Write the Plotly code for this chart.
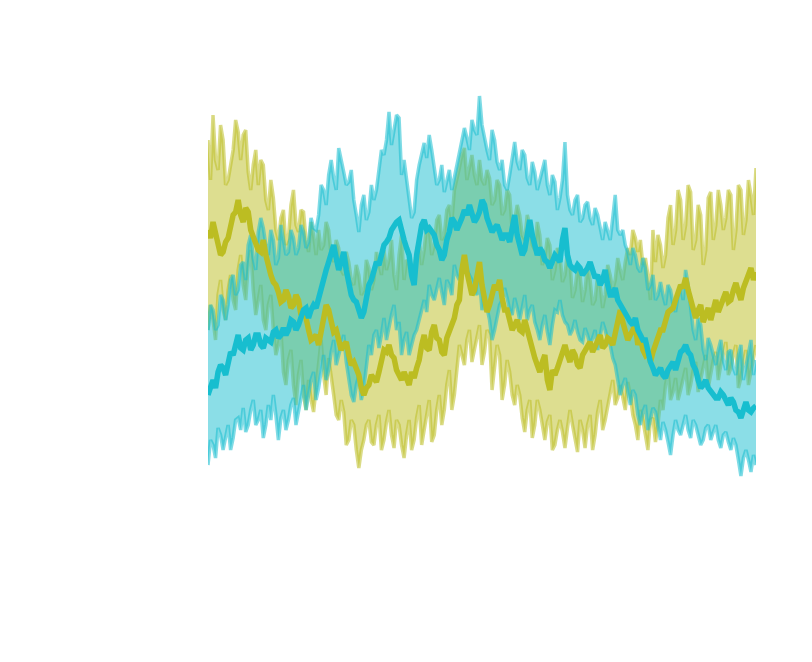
import plotly.graph_objects as go

# Values at the main sample points (every step)
olive_mean = [250, 258, 235, 228, 242, 265, 280, 258, 268, 242,
              230, 240, 212, 198, 188, 180, 184, 175, 180, 168,
              150, 142, 135, 162, 170, 148, 140, 135, 125, 118,
              105, 85, 95, 102, 108, 130, 135, 122, 105, 108,
              95, 102, 120, 145, 130, 155, 140, 125, 150, 162,
              180, 225, 195, 190, 218, 180, 175, 195, 200, 170,
              162, 155, 150, 160, 140, 122, 108, 125, 90, 105,
              120, 135, 118, 125, 112, 130, 138, 135, 145, 135,
              140, 145, 170, 150, 145, 155, 145, 125, 118, 135,
              150, 158, 170, 180, 195, 202, 180, 162, 175, 165,
              160, 180, 175, 188, 180, 197, 180, 198, 212, 208]
# Values at the half steps in between
olive_mean_half = [242, 248, 225, 238, 255, 268, 265, 272, 250, 238,
                   228, 225, 205, 195, 178, 190, 172, 185, 165, 162,
                   140, 145, 150, 175, 155, 150, 130, 138, 115, 112,
                   92, 92, 105, 98, 122, 128, 125, 110, 100, 100,
                   108, 112, 135, 132, 148, 142, 128, 142, 155, 175,
                   210, 208, 185, 205, 195, 168, 188, 190, 182, 170,
                   150, 160, 148, 150, 128, 115, 118, 100, 110, 112,
                   128, 125, 130, 115, 125, 135, 128, 142, 132, 142,
                   135, 160, 158, 140, 150, 135, 130, 128, 128, 145,
                   150, 168, 172, 190, 192, 190, 170, 170, 158, 172,
                   172, 168, 185, 178, 190, 188, 192, 205, 200]

olive_upper = [340, 365, 310, 340, 300, 330, 348, 345, 308, 315,
               295, 315, 270, 282, 240, 270, 242, 290, 248, 268,
               228, 245, 250, 235, 250, 218, 232, 205, 218, 195,
               205, 190, 212, 200, 218, 230, 220, 205, 225, 200,
               218, 212, 240, 230, 252, 235, 265, 245, 275, 290,
               312, 332, 315, 305, 320, 295, 302, 280, 295, 270,
               285, 260, 265, 240, 255, 230, 245, 222, 235, 210,
               225, 205, 218, 190, 205, 190, 200, 180, 195, 185,
               205, 200, 210, 218, 225, 242, 240, 222, 180, 218,
               235, 225, 275, 250, 280, 255, 288, 240, 265, 230,
               288, 255, 275, 262, 285, 250, 290, 260, 285, 312]
olive_upper_half = [300, 320, 355, 295, 318, 360, 320, 350, 290, 330,
                    320, 280, 300, 250, 262, 235, 275, 255, 270, 240,
                    258, 225, 230, 258, 225, 240, 210, 228, 200, 215,
                    185, 220, 190, 228, 205, 210, 240, 190, 245, 220,
                    200, 230, 215, 255, 225, 260, 240, 270, 258, 300,
                    325, 300, 325, 295, 300, 310, 275, 300, 265, 290,
                    250, 275, 245, 265, 235, 258, 215, 242, 200, 232,
                    198, 228, 182, 212, 178, 215, 175, 205, 172, 215,
                    190, 222, 200, 232, 250, 228, 215, 205, 250, 245,
                    212, 262, 235, 290, 240, 295, 230, 275, 215, 282,
                    240, 290, 250, 290, 230, 295, 245, 300, 265]

olive_lower = [150, 160, 185, 170, 190, 180, 210, 195, 215, 190,
               180, 160, 175, 150, 135, 108, 120, 95, 105, 85,
               100, 68, 120, 105, 122, 85, 60, 68, 40, 55,
               12, 40, 60, 35, 65, 40, 70, 32, 55, 22,
               60, 40, 75, 50, 80, 45, 85, 70, 110, 85,
               135, 115, 150, 130, 155, 128, 145, 110, 125, 95,
               108, 75, 85, 48, 80, 55, 70, 40, 65, 35,
               60, 32, 70, 40, 60, 32, 65, 45, 80, 60,
               90, 75, 95, 70, 85, 55, 70, 45, 60, 38,
               80, 95, 80, 102, 90, 112, 95, 118, 102, 125,
               108, 128, 115, 138, 112, 135, 102, 130, 108, 135]
olive_lower_half = [175, 140, 200, 160, 205, 170, 225, 180, 230, 165,
                    195, 150, 185, 125, 150, 95, 130, 75, 120, 70,
                    80, 95, 140, 85, 100, 65, 80, 35, 60, 30,
                    30, 55, 38, 55, 30, 58, 45, 60, 35, 45,
                    30, 62, 35, 68, 38, 70, 55, 95, 70, 110,
                    125, 140, 118, 145, 115, 150, 90, 135, 80, 120,
                    85, 95, 62, 70, 42, 80, 52, 58, 30, 50,
                    48, 52, 55, 28, 50, 55, 30, 68, 50, 75,
                    100, 82, 80, 98, 65, 40, 60, 30, 62, 55,
                    70, 108, 88, 80, 100, 85, 110, 88, 115, 92,
                    120, 100, 128, 105, 125, 92, 118, 95, 125]

cyan_mean = [85, 100, 108, 112, 120, 125, 145, 130, 142, 135,
             145, 132, 140, 148, 142, 152, 150, 158, 155, 170,
             162, 175, 182, 202, 218, 235, 210, 228, 195, 180,
             170, 168, 195, 210, 215, 235, 242, 255, 260, 240,
             225, 195, 245, 260, 252, 245, 230, 225, 248, 258,
             255, 270, 275, 258, 268, 275, 255, 252, 248, 245,
             238, 265, 235, 230, 260, 235, 232, 220, 212, 225,
             218, 252, 215, 210, 212, 208, 218, 202, 195, 210,
             185, 192, 175, 168, 158, 162, 145, 140, 118, 105,
             112, 102, 115, 110, 128, 135, 125, 110, 92, 100,
             88, 82, 88, 80, 82, 70, 62, 78, 68, 74]
cyan_mean_half = [95, 92, 115, 105, 128, 138, 132, 140, 130, 145,
                  135, 142, 138, 150, 145, 145, 160, 150, 162, 172,
                  170, 172, 195, 210, 225, 222, 218, 210, 185, 178,
                  162, 182, 200, 218, 225, 238, 250, 258, 248, 232,
                  205, 225, 255, 250, 248, 235, 220, 240, 262, 250,
                  262, 265, 268, 262, 280, 262, 248, 255, 240, 245,
                  255, 245, 225, 245, 245, 225, 228, 218, 220, 222,
                  240, 225, 212, 215, 205, 212, 210, 205, 200, 195,
                  185, 180, 172, 160, 155, 150, 140, 128, 112, 108,
                  105, 110, 118, 122, 130, 128, 115, 100, 95, 92,
                  85, 82, 85, 75, 78, 68, 72, 70, 72]

cyan_upper = [150, 170, 155, 180, 175, 205, 190, 218, 235, 222,
              248, 252, 225, 240, 222, 240, 228, 242, 232, 248,
              238, 252, 265, 290, 305, 302, 332, 308, 298, 280,
              248, 285, 268, 280, 312, 325, 368, 350, 362, 320,
              285, 268, 315, 337, 345, 315, 300, 288, 310, 302,
              330, 352, 330, 350, 384, 340, 320, 340, 310, 295,
              305, 338, 310, 325, 295, 308, 300, 320, 285, 298,
              282, 338, 270, 280, 258, 275, 262, 272, 250, 258,
              240, 285, 245, 235, 215, 225, 208, 212, 195, 180,
              198, 175, 190, 168, 195, 210, 175, 140, 155, 120,
              135, 115, 140, 110, 130, 105, 135, 112, 140, 120]
cyan_upper_half = [175, 150, 185, 160, 200, 185, 215, 200, 245, 210,
                   262, 235, 250, 215, 255, 225, 250, 225, 255, 232,
                   262, 250, 295, 275, 320, 290, 318, 295, 310, 265,
                   275, 260, 295, 290, 330, 340, 335, 365, 305, 300,
                   262, 300, 325, 322, 330, 295, 315, 300, 290, 318,
                   338, 342, 360, 345, 355, 330, 350, 318, 320, 290,
                   320, 318, 330, 302, 318, 290, 312, 295, 305, 270,
                   300, 285, 265, 285, 262, 278, 255, 265, 240, 250,
                   262, 250, 250, 228, 232, 212, 222, 190, 205, 185,
                   185, 195, 175, 185, 180, 195, 150, 162, 130, 142,
                   125, 130, 120, 128, 112, 125, 100, 128, 105]

cyan_lower = [15, 35, 52, 30, 55, 42, 62, 72, 55, 80,
              60, 42, 75, 85, 40, 70, 60, 82, 68, 95,
              85, 108, 92, 125, 110, 140, 125, 145, 100, 78,
              105, 92, 135, 145, 132, 162, 155, 175, 158, 140,
              125, 145, 162, 180, 195, 180, 202, 175, 195, 215,
              200, 222, 205, 190, 202, 180, 160, 150, 175, 192,
              170, 182, 160, 185, 170, 158, 140, 165, 135, 170,
              180, 158, 145, 160, 140, 152, 135, 150, 142, 150,
              135, 115, 85, 102, 75, 85, 55, 75, 60, 68,
              40, 50, 25, 60, 45, 65, 42, 55, 35, 52,
              40, 55, 32, 48, 30, 35, 4, 30, 8, 15]
cyan_lower_half = [40, 22, 45, 42, 30, 60, 50, 48, 70, 55,
                   70, 55, 60, 65, 62, 50, 75, 55, 80, 70,
                   100, 80, 110, 100, 128, 115, 138, 118, 85, 95,
                   80, 118, 125, 150, 145, 140, 165, 150, 125, 148,
                   135, 150, 170, 168, 185, 190, 188, 200, 185, 205,
                   212, 210, 200, 185, 170, 172, 140, 165, 180, 182,
                   165, 172, 172, 160, 175, 150, 155, 148, 155, 168,
                   165, 155, 150, 148, 138, 145, 142, 130, 158, 140,
                   122, 100, 95, 88, 90, 65, 68, 50, 72, 55,
                   58, 38, 45, 50, 55, 50, 60, 45, 40, 55,
                   48, 40, 45, 38, 42, 20, 22, 20, 25]


def weave(main, half):
    xs, ys = [], []
    for i, v in enumerate(main):
        xs.append(i)
        ys.append(v)
        if i < len(half) and i < len(main) - 1:
            xs.append(i + 0.5)
            ys.append(half[i])
    return xs, ys


series = [
    ("olive", (olive_mean, olive_mean_half), (olive_upper, olive_upper_half),
     (olive_lower, olive_lower_half), (188, 189, 34)),
    ("cyan", (cyan_mean, cyan_mean_half), (cyan_upper, cyan_upper_half),
     (cyan_lower, cyan_lower_half), (23, 190, 207)),
]

fig = go.Figure()
for name, mean, upper, lower, (r, g, b) in series:
    band_line = f"rgba({r},{g},{b},0.55)"
    fill = f"rgba({r},{g},{b},0.5)"
    lx, ly = weave(*lower)
    ux, uy = weave(*upper)
    fig.add_trace(go.Scatter(x=lx, y=ly, mode="lines",
                             line=dict(color=band_line, width=3.5),
                             showlegend=False, hoverinfo="skip"))
    fig.add_trace(go.Scatter(x=ux, y=uy, mode="lines",
                             line=dict(color=band_line, width=3.5),
                             fill="tonexty", fillcolor=fill,
                             showlegend=False, hoverinfo="skip"))
for name, mean, upper, lower, (r, g, b) in series:
    mx, my = weave(*mean)
    fig.add_trace(go.Scatter(x=mx, y=my, mode="lines",
                             line=dict(color=f"rgb({r},{g},{b})", width=5.5),
                             name=name, showlegend=False))

fig.update_layout(
    width=812, height=662,
    margin=dict(l=200, r=64, t=87, b=190),
    paper_bgcolor="white", plot_bgcolor="white",
    xaxis=dict(visible=False, range=[0, 109]),
    yaxis=dict(visible=False, range=[0, 385]),
)
fig.write_html("out.html")
